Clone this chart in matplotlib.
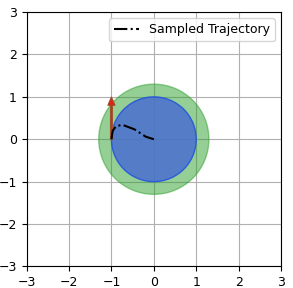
import matplotlib
matplotlib.use('Agg')
import matplotlib.pyplot as plt
from matplotlib.patches import Circle

# trajectory samples
traj_x = [-1.0, -0.97, -0.89, -0.74, -0.46, -0.19, 0.0]
traj_y = [0.0, 0.2, 0.31, 0.34, 0.235, 0.06, 0.0]

outer_r = 1.3
inner_r = 1.0
arrow_start = (-1.0, 0.0)
arrow_delta = (0.0, 1.0)
ticks = [-3, -2, -1, 0, 1, 2, 3]

fig, ax = plt.subplots(figsize=(2.93, 2.88), dpi=100)
fig.subplots_adjust(left=0.09, right=0.96, bottom=0.075, top=0.958)

ax.add_patch(Circle((0, 0), outer_r, fc='#2ca02c', ec='#2ca02c', alpha=0.5, zorder=2))
ax.add_patch(Circle((0, 0), inner_r, fc='#4a6fd0', ec='#2050e0', alpha=0.85, lw=1, zorder=3))

ax.arrow(arrow_start[0], arrow_start[1], arrow_delta[0], arrow_delta[1],
         width=0.045, head_width=0.17, head_length=0.2, length_includes_head=True,
         fc='#e0201c', ec='#a0522d', lw=0.8, zorder=4)

ax.plot(traj_x, traj_y, 'k-.', lw=1.5, label='Sampled Trajectory', zorder=5)

ax.set_xlim(-3, 3)
ax.set_ylim(-3, 3)
ax.set_xticks(ticks)
ax.set_yticks(ticks)
ax.set_aspect('equal')
ax.grid(True, color='#b0b0b0', lw=0.8, zorder=0)
ax.set_axisbelow(True)
ax.tick_params(labelsize=9)
ax.legend(loc='upper right', fontsize=9)

fig.savefig('out.png', dpi=100)
